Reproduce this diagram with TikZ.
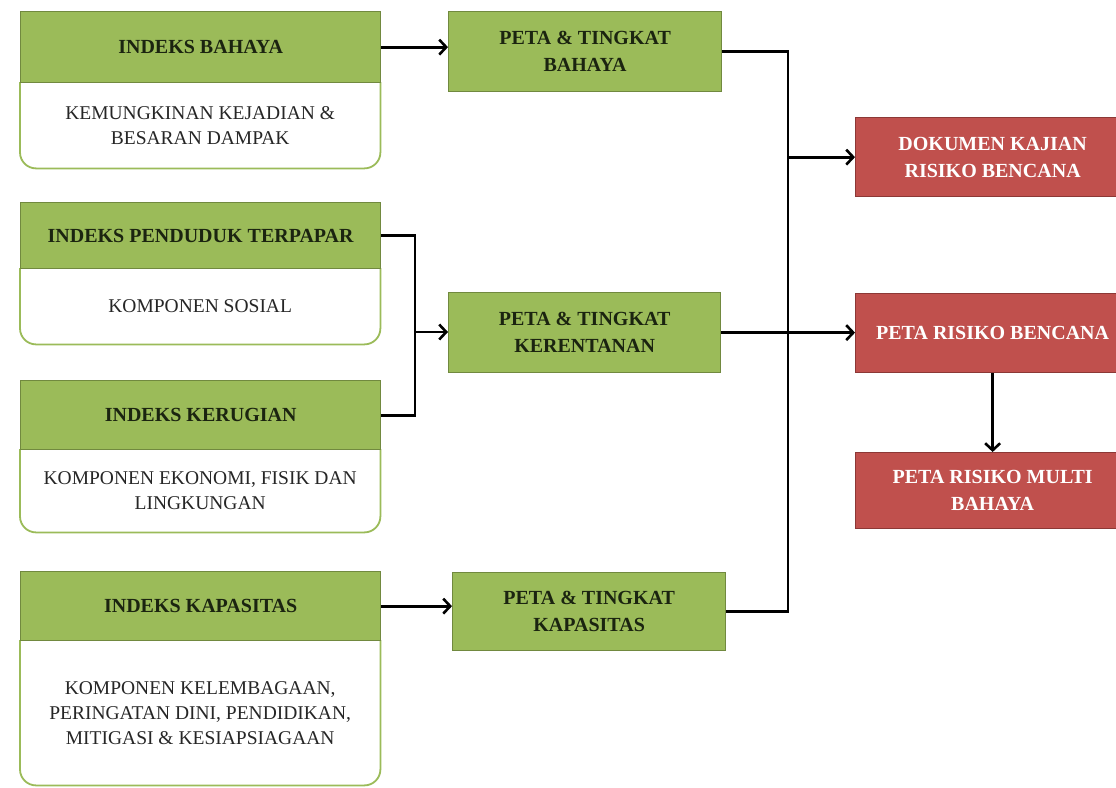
\documentclass[tikz,border=0pt]{standalone}
\usepackage{fontspec}
\setmainfont{Liberation Serif}
\usetikzlibrary{arrows.meta}
\definecolor{gfill}{HTML}{9BBB59}
\definecolor{gline}{HTML}{71893F}
\definecolor{rfill}{HTML}{C0504D}
\definecolor{rline}{HTML}{8C3836}
\definecolor{txtdark}{HTML}{1B2410}
\begin{document}
\begin{tikzpicture}[x=1pt,y=-1pt,
  sz/.style 2 args={minimum width=#1pt, minimum height=#2pt},
  hdr/.style={draw=gline, fill=gfill, line width=1.3pt, anchor=north west, inner sep=1pt,
    font=\fontsize{20}{27}\selectfont\bfseries, align=center, text=txtdark},
  redbox/.style={draw=rline, fill=rfill, line width=1.3pt, anchor=north west, inner sep=1pt,
    font=\fontsize{20}{27}\selectfont\bfseries, align=center, text=white},
  bodytext/.style={anchor=north west, inner sep=1pt, align=center, text=black!85,
    font=\fontsize{19.5}{25}\selectfont},
  bodyline/.style={draw=gfill, line width=1.8pt, rounded corners=16pt},
  conn/.style={line width=2.8pt, black},
  arr/.style={conn, -{Straight Barb[length=7pt,width=15pt,line width=2.6pt]}}
]
\clip (0,0) rectangle (1116,787);
\fill[white] (0,0) rectangle (1116,787);

% ---- left column: bodies first, headers on top
\node[bodytext, sz={360}{86}] (b1) at (20,82) {KEMUNGKINAN KEJADIAN \&\\BESARAN DAMPAK};
\draw[bodyline] (b1.north west) -- (b1.south west) -- (b1.south east) -- (b1.north east);
\node[hdr, sz={360}{71}] (h1) at (20,11) {INDEKS BAHAYA};

\node[bodytext, sz={360}{76}] (b2) at (20,268) {KOMPONEN SOSIAL};
\draw[bodyline] (b2.north west) -- (b2.south west) -- (b2.south east) -- (b2.north east);
\node[hdr, sz={360}{66}] (h2) at (20,202) {INDEKS PENDUDUK TERPAPAR};

\node[bodytext, sz={360}{83}] (b3) at (20,449) {KOMPONEN EKONOMI, FISIK DAN\\LINGKUNGAN};
\draw[bodyline] (b3.north west) -- (b3.south west) -- (b3.south east) -- (b3.north east);
\node[hdr, sz={360}{69}] (h3) at (20,380) {INDEKS KERUGIAN};

\node[bodytext, sz={360}{145}] (b4) at (20,640) {KOMPONEN KELEMBAGAAN,\\PERINGATAN DINI, PENDIDIKAN,\\MITIGASI \& KESIAPSIAGAAN};
\draw[bodyline] (b4.north west) -- (b4.south west) -- (b4.south east) -- (b4.north east);
\node[hdr, sz={360}{69}] (h4) at (20,571) {INDEKS KAPASITAS};

% ---- middle column
\node[hdr, sz={273}{80}] (m1) at (448,11) {PETA \& TINGKAT\\BAHAYA};
\node[hdr, sz={272}{80}] (m2) at (448,292) {PETA \& TINGKAT\\KERENTANAN};
\node[hdr, sz={273}{78}] (m3) at (452,572) {PETA \& TINGKAT\\KAPASITAS};

% ---- right column
\node[redbox, sz={274}{79}] (r1) at (855,117) {DOKUMEN KAJIAN\\RISIKO BENCANA};
\node[redbox, sz={274}{79}] (r2) at (855,293) {PETA RISIKO BENCANA};
\node[redbox, sz={274}{76}] (r3) at (855,452) {PETA RISIKO MULTI\\BAHAYA};

% ---- connectors
\coordinate (bus) at (788,51);
\coordinate (join) at (415,332);

\draw[arr] (h1.east) -- (h1.east -| m1.west);
\draw[conn] (h2.east) -- (h2.east -| join) -- (h3.east -| join) -- (h3.east);
\draw[arr] (join) -- (join -| m2.west);
\draw[arr] (h4.east) -- (h4.east -| m3.west);

\draw[conn] (m1.east) -- (m1.east -| bus) -- (m3.east -| bus) -- (m3.east);
\draw[arr] (r1.west -| bus) -- (r1.west);
\draw[arr] (m2.east) -- (m2.east -| r2.west);
\draw[arr] (r2.south) -- (r3.north);
\end{tikzpicture}
\end{document}
